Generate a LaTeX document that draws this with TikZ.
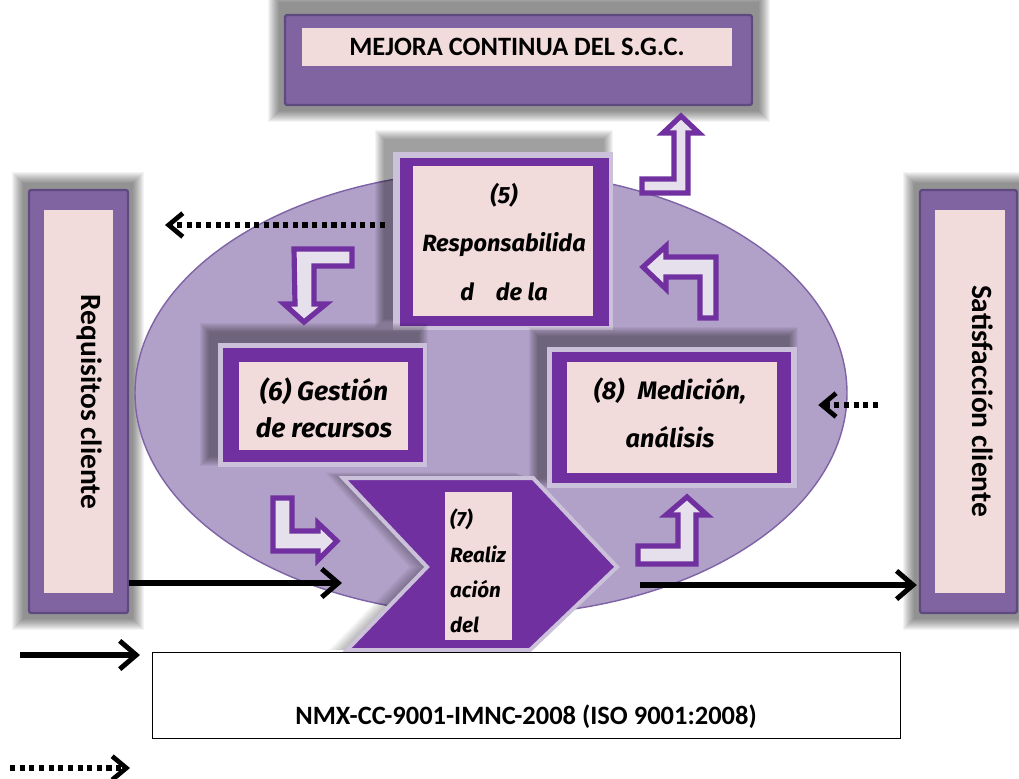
\documentclass[tikz,border=0pt]{standalone}
\usepackage{fontspec}
\setmainfont{Carlito}
\newfontfamily\handfont{Fira Sans}
\usetikzlibrary{arrows.meta,calc,fit}
\definecolor{pinkfill}{HTML}{F2DCDB}
\definecolor{midpurple}{HTML}{8064A2}
\definecolor{edgepurple}{HTML}{5F4A7F}
\definecolor{deeppurple}{HTML}{7030A0}
\definecolor{lightframe}{HTML}{CCC1DA}
\definecolor{ellfill}{HTML}{B1A0C7}
\definecolor{ellline}{HTML}{7E64A6}
\definecolor{arrowfill}{HTML}{E6E0EC}
\newcommand\softshade[6]{\foreach \k in {1,...,#5}{\fill[black,opacity=#6] ({#1-\k},{#2-\k}) rectangle ({#3+\k},{#4+\k});}}
\begin{document}
\begin{tikzpicture}[x=0.85pt,y=-0.85pt,
  hollow/.style={fill=arrowfill,draw=deeppurple,line width=4.4pt,line join=miter},
  solidarrow/.style={line width=4.6pt,-{Straight Barb[length=14pt,width=24pt,line width=4.2pt]}},
  dotarrow/.style={line width=5pt,dash pattern=on 4.4pt off 3.8pt,-{Straight Barb[length=12pt,width=20pt,line width=4pt]}},
  handtext/.style={font=\handfont\bfseries\itshape\fontsize{20}{41}\selectfont,align=center},
  sansbold/.style={font=\bfseries\fontsize{22.5}{26}\selectfont},
  colframe/.style={fill=midpurple,draw=edgepurple,line width=2pt,rounded corners=2pt,inner sep=0},
  pinkbox/.style={fill=pinkfill,inner sep=0},
  ]
\useasboundingbox (0,0) rectangle (1019,779);
\fill[white] (0,0) rectangle (1019,779);

% top box
\softshade{280}{3}{758}{110}{12}{0.045}
\node[colframe,fit={(285,15) (752,105)}] (mejoraO) {};
\node[pinkbox,fit={(302,28) (732,66)}] (mejora) {};
\node[sansbold] (mejoraT) at (mejora.center) {MEJORA CONTINUA DEL S.G.C.};

% left column
\softshade{24}{184}{132}{618}{12}{0.045}
\node[colframe,fit={(29,190) (128,613)}] (req) {};
\node[pinkbox,fit={(44,210) (113,593)}] (reqP) {};
\node[sansbold,font=\bfseries\fontsize{25}{28}\selectfont,rotate=-90] (reqT) at (90,402) {Requisitos cliente};

% right column
\softshade{915}{184}{1022}{618}{12}{0.045}
\node[colframe,fit={(920,190) (1017,613)}] (sat) {};
\node[pinkbox,fit={(935,210) (1005,593)}] (satP) {};
\node[sansbold,font=\bfseries\fontsize{25}{28}\selectfont,rotate=-90] (satT) at (983,401) {Satisfacción cliente};

% ellipse
\fill[ellfill,draw=ellline,line width=1.2pt] (491,393) ellipse [x radius=356,y radius=222];

% box 5
\softshade{385}{140}{603}{318}{10}{0.045}
\node[fill=lightframe,inner sep=0,fit={(393,152) (613,330)}] (b5O) {};
\fill[deeppurple] (400,158) rectangle (609,326);
\node[pinkbox,fit={(413,166) (593,316)}] (b5) {};
\node[handtext] (b5T) at (504,242) {(5)\\Responsabilida\\d\hspace{0.7em} de la};

% box 6
\softshade{210}{333}{418}{456}{10}{0.045}
\node[fill=lightframe,inner sep=0,fit={(218,343) (427,467)}] (b6O) {};
\fill[deeppurple] (223,348) rectangle (423,462);
\node[pinkbox,fit={(239,362) (408,450)}] (b6) {};
\node[handtext,font=\handfont\bfseries\itshape\fontsize{22.5}{31}\selectfont] (b6T) at (324,408) {(6) Gestión\\de recursos};

% box 8
\softshade{539}{337}{788}{478}{10}{0.045}
\node[fill=lightframe,inner sep=0,fit={(547,347) (797,488)}] (b8O) {};
\fill[deeppurple] (552,352) rectangle (791,483);
\node[pinkbox,fit={(567,362) (777,473)}] (b8) {};
\node[handtext,font=\handfont\bfseries\itshape\fontsize{21.5}{41}\selectfont] (b8T) at (670,413) {(8)\hspace{0.3em} Medición,\\análisis};

% chevron 7
\foreach \k in {2,4,...,18}{\fill[black,opacity=0.035] ({343-\k},{478-0.3*\k}) -- ({533-\k},{478-0.3*\k}) -- ({617-\k},567) -- ({530-\k},650) -- ({347-\k},650) -- ({427-\k},567) -- cycle;}
\coordinate (c7notch) at (427,567);
\coordinate (c7tip) at (617,567);
\path[fill=deeppurple,draw=lightframe,line width=3.4pt,line join=miter] (343,478) -- (533,478) -- (c7tip) -- (530,650) -- (347,650) -- (c7notch) -- cycle;
\node[pinkbox,fit={(445,492) (512,640)}] (b7) {};
\node[font=\handfont\bfseries\itshape\fontsize{17.5}{30}\selectfont,align=left,anchor=west] (b7T) at (446,571) {(7)\\Realiz\\ación\\del};

% hollow bent arrows
\draw[hollow] (642,179) -- (674,179) -- (674,133) -- (663,133) -- (681,116) -- (699,133) -- (688,133) -- (688,193) -- (642,193) -- cycle;
\draw[hollow] (643,267) -- (666,246) -- (666,257) -- (716,257) -- (716,318) -- (700,318) -- (700,277) -- (666,277) -- (666,289) -- cycle;
\draw[hollow] (294,249) -- (352,249) -- (352,266) -- (314,266) -- (314,304) -- (326,304) -- (304,322) -- (284,304) -- (295,304) -- cycle;
\draw[hollow] (273,498) -- (292,498) -- (292,531) -- (318,531) -- (318,523) -- (337,541) -- (318,560) -- (318,551) -- (273,551) -- cycle;
\draw[hollow] (638,546) -- (678,546) -- (678,515) -- (666,515) -- (687,497) -- (707,515) -- (696,515) -- (696,564) -- (638,564) -- cycle;

% connectors
\coordinate (inL) at (342,583);
\draw[solidarrow] (req.east |- inL) -- (inL);
\coordinate (outR) at (640,585);
\draw[solidarrow] (outR) -- ($(sat.west |- outR)+(-2,0)$);
\coordinate (d1) at (165,225);
\draw[dotarrow] ($(b5O.west |- d1)+(-8,0)$) -- (d1);
\coordinate (d2) at (878,405);
\draw[dotarrow] (d2) -- ($(b8O.east |- d2)+(21,0)$);

% norm box
\node[fit={(152,652) (900,738)},inner sep=0,draw=black,line width=0.8pt,fill=white] (norm) {};
\node[font=\bfseries\fontsize{22.5}{24}\selectfont] (normT) at (526,717) {NMX-CC-9001-IMNC-2008 (ISO 9001:2008)};

% legend
\coordinate (l1a) at (20,655);
\coordinate (l1b) at (140,655);
\draw[solidarrow] (l1a) -- (l1b);
\coordinate (l2a) at (10,768);
\coordinate (l2b) at (130,768);
\draw[dotarrow] (l2a) -- (l2b);
\end{tikzpicture}
\end{document}
